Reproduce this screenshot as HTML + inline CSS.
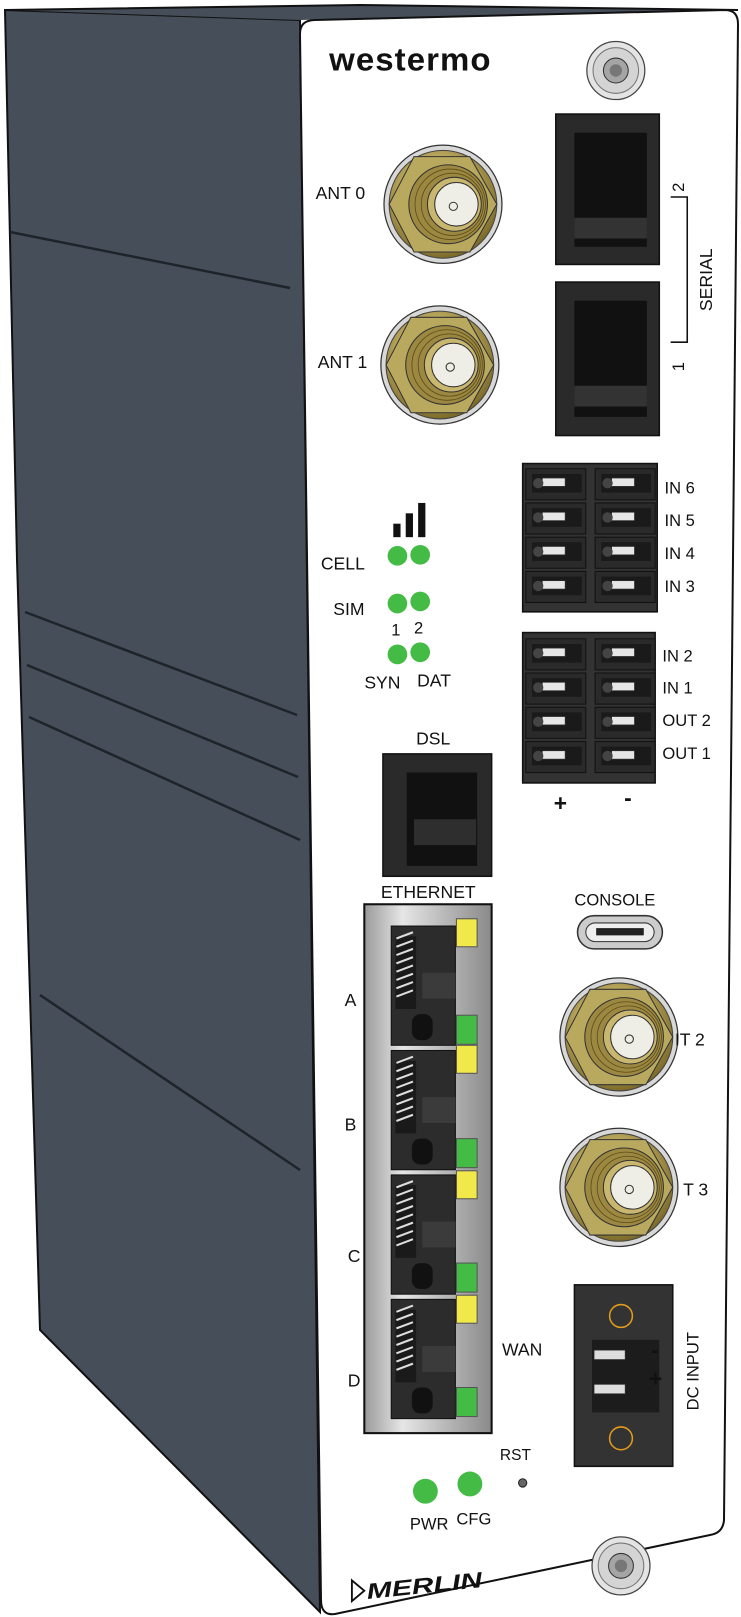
<!DOCTYPE html>
<html><head><meta charset="utf-8"><style>
html,body{margin:0;padding:0;background:#fff;width:741px;height:1617px;overflow:hidden}
svg{display:block}
text{font-family:"Liberation Sans",sans-serif;fill:#111}
</style></head><body>
<svg width="741" height="1617" viewBox="0 0 741 1617" xmlns="http://www.w3.org/2000/svg">
<defs>
<radialGradient id="gold" cx="45%" cy="40%" r="60%"><stop offset="0" stop-color="#e0d49a"/><stop offset="0.6" stop-color="#b7a45a"/><stop offset="1" stop-color="#7c6a2a"/></radialGradient>
<linearGradient id="silver" x1="0" x2="1"><stop offset="0" stop-color="#9a9a9a"/><stop offset="0.3" stop-color="#e6e6e6"/><stop offset="0.6" stop-color="#bdbdbd"/><stop offset="1" stop-color="#8a8a8a"/></linearGradient>
<g id="ant">
<circle r="57" fill="#d8d8d8" stroke="#333" stroke-width="1.2"/>
<circle r="52" fill="url(#gold)" stroke="#444" stroke-width="1"/>
<polygon points="-28,-46 26,-46 52,0 26,46 -28,46 -52,0" fill="#b9a95f" stroke="#333" stroke-width="1"/>
<circle cx="5" cy="0" r="38" fill="#9c8840" stroke="#333"/>
<circle cx="7" cy="0" r="34" fill="none" stroke="#5c4d1a" stroke-width="0.8"/>
<circle cx="9" cy="0" r="30" fill="none" stroke="#5c4d1a" stroke-width="0.8"/>
<circle cx="11" cy="0" r="26" fill="#c9b770" stroke="#333"/>
<circle cx="13" cy="0" r="21" fill="#efeee6" stroke="#333"/>
<circle cx="10" cy="2" r="4" fill="none" stroke="#333"/>
</g>
<g id="screw">
<circle r="28" fill="#e4e4e4" stroke="#444" stroke-width="1.2"/>
<circle r="22" fill="#d4d4d4" stroke="#777"/>
<circle r="12" fill="#a5a5a5" stroke="#333"/>
<circle r="6" fill="#777"/>
</g>
<g id="term">
<rect x="0" y="0" width="58" height="30" fill="#2a2a2a" stroke="#111"/>
<rect x="6" y="5" width="48" height="18" fill="#1a1a1a"/>
<rect x="16" y="9" width="22" height="8" fill="#e6e6e6" stroke="#333" stroke-width="0.6"/>
<circle cx="12" cy="14" r="5" fill="#444"/>
</g>
<g id="rj">
<rect x="0" y="0" width="62" height="115" fill="#2c2c2c" stroke="#111"/>
<rect x="4" y="10" width="20" height="70" fill="#1a1a1a"/>
<path d="M5 12 l16 -6 M5 20 l16 -6 M5 28 l16 -6 M5 36 l16 -6 M5 44 l16 -6 M5 52 l16 -6 M5 60 l16 -6 M5 68 l16 -6" stroke="#ddd" stroke-width="2"/>
<rect x="30" y="45" width="32" height="25" fill="#3b3b3b"/>
<rect x="20" y="85" width="20" height="25" rx="8" fill="#111"/>
</g>
</defs>

<polygon points="5,10 300,20 320,1612 40,1330 17,560" fill="#454e59" stroke="#111" stroke-width="2"/>
<polygon points="5,10 360,5 738,10 300,20" fill="#454e59"/>
<polyline points="5,10 360,5 738,10" fill="none" stroke="#111" stroke-width="2"/>
<g stroke="#1e242a" stroke-width="2.5" fill="none">
<line x1="10" y1="232" x2="290" y2="288"/>
<line x1="25" y1="612" x2="297" y2="715"/>
<line x1="27" y1="665" x2="298" y2="777"/>
<line x1="29" y1="717" x2="300" y2="840"/>
<line x1="40" y1="995" x2="300" y2="1170"/>
</g>
<path d="M300,34 Q300,20 315,20 L725,10 Q738,10 738,24 L724,1520 Q723,1533 710,1535 L335,1614 Q321,1616 321,1600 Z" fill="#fff" stroke="#111" stroke-width="2"/>

<g transform="scale(1.035,1.037)">
<text x="318" y="68" font-size="31" font-weight="bold" textLength="157" lengthAdjust="spacingAndGlyphs" style="letter-spacing:1px">westermo</text>
<use href="#screw" x="595" y="68"/>
<text x="305" y="192" font-size="17">ANT 0</text>
<use href="#ant" x="428" y="197"/>
<text x="307" y="355" font-size="17">ANT 1</text>
<use href="#ant" x="425" y="352"/>

<rect x="537" y="110" width="100" height="145" fill="#2a2a2a" stroke="#111" stroke-width="1.5"/>
<rect x="555" y="128" width="70" height="110" fill="#111"/>
<rect x="555" y="210" width="70" height="20" fill="#333"/>
<rect x="537" y="272" width="100" height="148" fill="#2a2a2a" stroke="#111" stroke-width="1.5"/>
<rect x="555" y="290" width="70" height="112" fill="#111"/>
<rect x="555" y="372" width="70" height="20" fill="#333"/>
<path d="M648,190 L664,190 L664,330 L648,330" fill="none" stroke="#111" stroke-width="1.5"/>
<text transform="translate(661,185) rotate(-90)" font-size="16">2</text>
<text transform="translate(661,358) rotate(-90)" font-size="16">1</text>
<text transform="translate(688,300) rotate(-90)" font-size="17">SERIAL</text>

<rect x="380" y="505" width="7" height="13" fill="#111"/>
<rect x="392" y="495" width="7" height="23" fill="#111"/>
<rect x="404" y="485" width="7" height="33" fill="#111"/>
<text x="310" y="549" font-size="17">CELL</text>
<g fill="#44bb44"><circle cx="384" cy="536" r="9.5"/><circle cx="406" cy="535" r="9.5"/>
<circle cx="384" cy="582" r="9.5"/><circle cx="406" cy="580" r="9.5"/>
<circle cx="384" cy="631" r="9.5"/><circle cx="406" cy="629" r="9.5"/></g>
<text x="322" y="593" font-size="17">SIM</text>
<text x="378" y="613" font-size="16">1</text><text x="400" y="611" font-size="16">2</text>
<text x="352" y="664" font-size="17">SYN</text><text x="403" y="662" font-size="17">DAT</text>

<rect x="505" y="447" width="130" height="143" fill="#333" stroke="#111" stroke-width="1.5"/>
<rect x="505" y="610" width="128" height="145" fill="#333" stroke="#111" stroke-width="1.5"/>
<g>
<use href="#term" x="508" y="452"/><use href="#term" x="575" y="452"/>
<use href="#term" x="508" y="485"/><use href="#term" x="575" y="485"/>
<use href="#term" x="508" y="518"/><use href="#term" x="575" y="518"/>
<use href="#term" x="508" y="551"/><use href="#term" x="575" y="551"/>
<use href="#term" x="508" y="616"/><use href="#term" x="575" y="616"/>
<use href="#term" x="508" y="649"/><use href="#term" x="575" y="649"/>
<use href="#term" x="508" y="682"/><use href="#term" x="575" y="682"/>
<use href="#term" x="508" y="715"/><use href="#term" x="575" y="715"/>
</g>
<text x="642" y="476" font-size="16">IN 6</text><text x="642" y="507" font-size="16">IN 5</text>
<text x="642" y="539" font-size="16">IN 4</text><text x="642" y="571" font-size="16">IN 3</text>
<text x="640" y="638" font-size="16">IN 2</text><text x="640" y="669" font-size="16">IN 1</text>
<text x="640" y="700" font-size="16">OUT 2</text><text x="640" y="732" font-size="16">OUT 1</text>
<text x="535" y="782" font-size="22" font-weight="bold">+</text>
<text x="603" y="777" font-size="22" font-weight="bold">-</text>

<text x="402" y="718" font-size="17">DSL</text>
<rect x="370" y="727" width="105" height="118" fill="#2a2a2a" stroke="#111" stroke-width="1.5"/>
<rect x="393" y="745" width="68" height="90" fill="#111"/>
<rect x="400" y="790" width="60" height="25" fill="#2e2e2e"/>
<text x="368" y="866" font-size="17">ETHERNET</text>

<g transform="translate(0,-4)">
<rect x="352" y="876" width="123" height="510" fill="url(#silver)" stroke="#111" stroke-width="2"/>
<use href="#rj" x="378" y="897"/><use href="#rj" x="378" y="1017"/>
<use href="#rj" x="378" y="1137"/><use href="#rj" x="378" y="1257"/>
<g stroke="#555" stroke-width="1">
<rect x="441" y="890" width="20" height="27" fill="#f1e84a"/><rect x="441" y="983" width="20" height="28" fill="#44bb44"/>
<rect x="441" y="1012" width="20" height="27" fill="#f1e84a"/><rect x="441" y="1102" width="20" height="28" fill="#44bb44"/>
<rect x="441" y="1133" width="20" height="27" fill="#f1e84a"/><rect x="441" y="1222" width="20" height="28" fill="#44bb44"/>
<rect x="441" y="1253" width="20" height="27" fill="#f1e84a"/><rect x="441" y="1342" width="20" height="28" fill="#44bb44"/></g>
</g>
<text x="333" y="970" font-size="17">A</text><text x="333" y="1090" font-size="17">B</text>
<text x="336" y="1217" font-size="17">C</text><text x="336" y="1337" font-size="17">D</text>
<text x="485" y="1307" font-size="17">WAN</text>

<text x="555" y="873" font-size="16">CONSOLE</text>
<rect x="558" y="883" width="82" height="32" rx="16" fill="#ccc" stroke="#333" stroke-width="1.5"/>
<rect x="566" y="890" width="66" height="18" rx="9" fill="#eee" stroke="#333"/>
<rect x="576" y="895" width="46" height="7" fill="#222"/>

<use href="#ant" x="598" y="1000"/>
<text x="652" y="1008" font-size="17">IT 2</text>
<use href="#ant" x="598" y="1145"/>
<text x="660" y="1153" font-size="17">T 3</text>

<g transform="translate(0,-8)">
<rect x="555" y="1247" width="95" height="175" fill="#333" stroke="#111" stroke-width="1.5"/>
<circle cx="600" cy="1277" r="11" fill="none" stroke="#e39b1e" stroke-width="1.5"/>
<circle cx="600" cy="1395" r="11" fill="none" stroke="#e39b1e" stroke-width="1.5"/>
<rect x="572" y="1300" width="65" height="70" fill="#1c1c1c"/>
<rect x="574" y="1310" width="30" height="9" fill="#ddd" stroke="#333" stroke-width="0.6"/>
<rect x="574" y="1343" width="30" height="9" fill="#ddd" stroke="#333" stroke-width="0.6"/>
<text x="629" y="1317" font-size="22" font-weight="bold">-</text>
<text x="627" y="1345" font-size="22" font-weight="bold">+</text>
<text transform="translate(675,1368) rotate(-90)" font-size="16">DC INPUT</text>
</g>
<use href="#screw" x="600" y="1510"/>

<text x="483" y="1408" font-size="15">RST</text>
<circle cx="505" cy="1430" r="4" fill="#666" stroke="#222"/>
<circle cx="411" cy="1438" r="12" fill="#44bb44"/><circle cx="454" cy="1431" r="12" fill="#44bb44"/>
<text x="396" y="1475" font-size="16">PWR</text><text x="441" y="1470" font-size="16">CFG</text>
<polygon points="340,1524 340,1544 352,1534" fill="none" stroke="#111" stroke-width="1.8"/>
<text x="355" y="1542" font-size="21" font-weight="bold" font-style="italic" textLength="112" lengthAdjust="spacingAndGlyphs" transform="rotate(-6 355 1542)">MERLIN</text>
</g>
</svg>
</body></html>
